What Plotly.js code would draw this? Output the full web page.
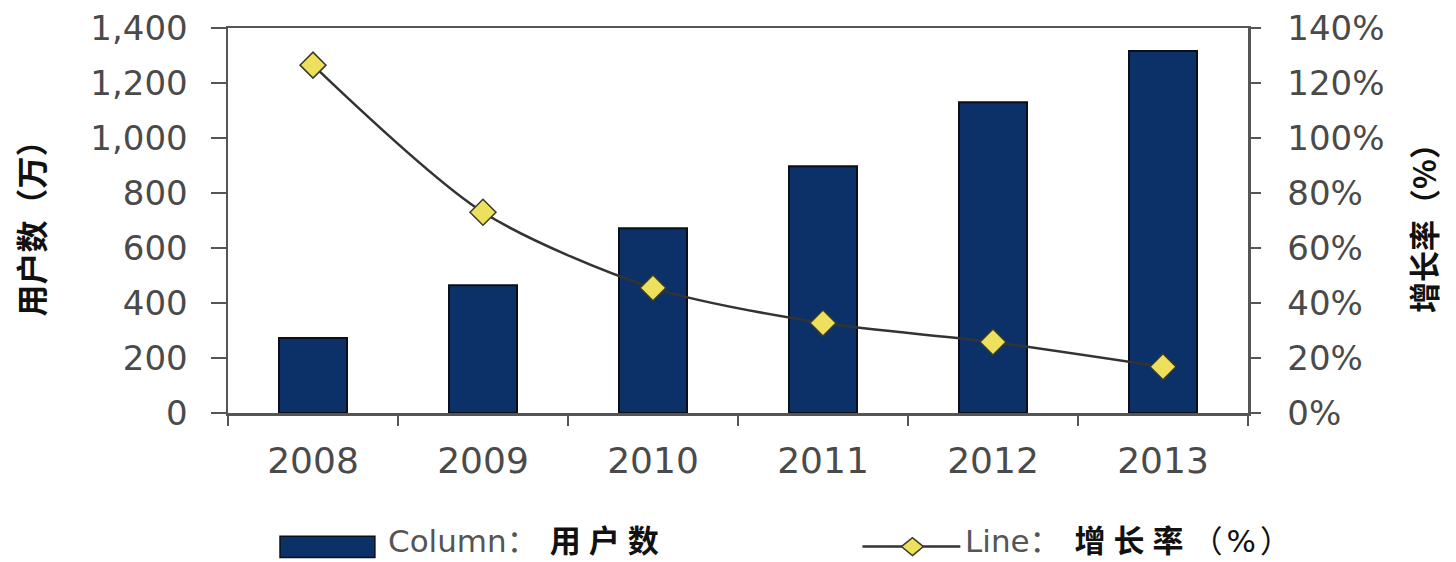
<!DOCTYPE html>
<html><head><meta charset="utf-8">
<script src="https://cdn.plot.ly/plotly-3.0.1.min.js"></script>
<style>html,body{margin:0;padding:0;background:#fff}#chart{width:1456px;height:562px}</style>
</head><body><div id="chart"></div>
<script>
const years = ['2008','2009','2010','2011','2012','2013'];
const users = [273, 465, 672, 897, 1130, 1316];
const growth = [126.5, 73, 45.5, 32.7, 25.8, 16.8];
const leftTicks = [0,200,400,600,800,1000,1200,1400];
const rightTicks = [0,20,40,60,80,100,120,140];

const tickFont = {family:'DejaVu Sans, Arial, sans-serif', size:34, color:'#4a4a4a'};
const cjk = 'Noto Sans CJK SC, sans-serif';

const traces = [
  {type:'bar', x:years, y:users, name:'用户数', width:0.4,
   marker:{color:'#0b3168', line:{color:'#0a0f1a', width:2}}},
  {type:'scatter', mode:'lines+markers', x:years, y:growth, yaxis:'y2', name:'增长率',
   line:{color:'#333333', width:2.5, shape:'spline', smoothing:0.8},
   marker:{symbol:'diamond', size:20, color:'#ece05c', line:{color:'#3a3a2a', width:1.5}}}
];

const layout = {
  width:1456, height:562,
  margin:{l:228, r:208, t:28, b:149},
  paper_bgcolor:'#fff', plot_bgcolor:'#fff',
  showlegend:false,
  xaxis:{type:'category', showline:true, linecolor:'#555', linewidth:2.5, mirror:true,
    ticks:'outside', ticklen:10, tickcolor:'#555', tickwidth:2, tickson:'boundaries',
    tickfont:{family:'DejaVu Sans, Arial, sans-serif', size:36, color:'#4a4a4a'}, ticklabelstandoff:14, showgrid:false, zeroline:false},
  yaxis:{range:[0,1400], tickvals:leftTicks, ticktext:leftTicks.map(v=>v.toLocaleString('en-US')),
    showline:true, linecolor:'#555', linewidth:2.5, ticks:'outside', ticklen:15, tickcolor:'#555', tickwidth:2,
    tickfont:tickFont, ticklabelstandoff:16, showgrid:false, zeroline:false,
    title:{text:'用户数（万）', font:{family:cjk, size:32, color:'#111', weight:'bold'}, standoff:36}},
  yaxis2:{range:[0,140], overlaying:'y', side:'right', tickvals:rightTicks, ticktext:rightTicks.map(v=>v+'%'),
    showline:true, linecolor:'#555', linewidth:2.5, ticks:'outside', ticklen:10, tickcolor:'#555', tickwidth:2,
    tickfont:tickFont, ticklabelstandoff:20, showgrid:false, zeroline:false,
    title:{text:'增长率（%）', font:{family:cjk, size:31, color:'#111', weight:'bold'}, standoff:31}},
  shapes:[
    {type:'rect', xref:'paper', yref:'paper', x0:0.051, x1:0.144, y0:-0.32, y1:-0.375,
     fillcolor:'#0b3168', line:{color:'#0a0f1a', width:1.5}},
    {type:'line', xref:'paper', yref:'paper', x0:0.622, x1:0.718, y0:-0.347, y1:-0.347,
     line:{color:'#333', width:2.5}},
    {type:'path', xref:'paper', yref:'paper', xsizemode:'pixel', ysizemode:'pixel', xanchor:0.671, yanchor:-0.347,
     path:'M 0 -9 L 11 0 L 0 9 L -11 0 Z', fillcolor:'#ece05c', line:{color:'#3a3a2a', width:1.5}}
  ],
  annotations:[
    {xref:'paper', yref:'paper', x:0.155, y:-0.333, xanchor:'left', yanchor:'middle', showarrow:false,
     text:'Column<span style="letter-spacing:12px">：</span><b><span style="color:#111;letter-spacing:8px">用户数</span></b>',
     font:{family:'DejaVu Sans, '+cjk, size:31, color:'#555'}},
    {xref:'paper', yref:'paper', x:0.721, y:-0.333, xanchor:'left', yanchor:'middle', showarrow:false,
     text:'Line<span style="letter-spacing:14px">：</span><b><span style="color:#111;letter-spacing:8px">增长率</span></b><span style="color:#111;letter-spacing:4px">（%）</span>',
     font:{family:'DejaVu Sans, '+cjk, size:31, color:'#555'}}
  ]
};
Plotly.newPlot('chart', traces, layout, {displayModeBar:false, staticPlot:true});
</script></body></html>
